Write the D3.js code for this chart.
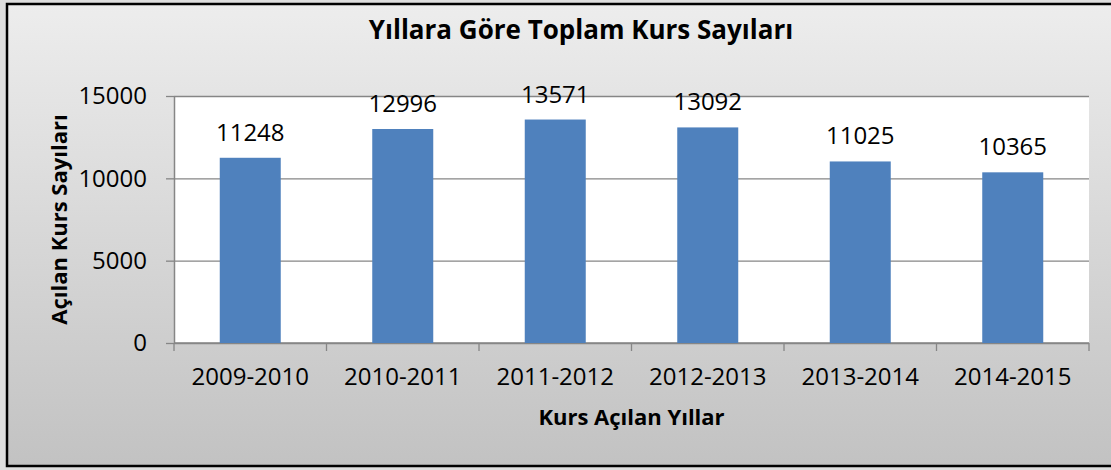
<!DOCTYPE html>
<html>
<head>
<meta charset="utf-8">
<script src="https://cdn.jsdelivr.net/npm/d3@7"></script>
<style>
  html, body { margin: 0; padding: 0; background: #dedede; }
  svg { display: block; }
</style>
</head>
<body>
<svg width="1111" height="470"></svg>
<script>
// chart data
const years = ["2009-2010", "2010-2011", "2011-2012", "2012-2013", "2013-2014", "2014-2015"];
const courseCounts = [11248, 12996, 13571, 13092, 11025, 10365];
const yTicks = [0, 5000, 10000, 15000];

const titleText = "Yıllara Göre Toplam Kurs Sayıları";
const xTitleText = "Kurs Açılan Yıllar";
const yTitleText = "Açılan Kurs Sayıları";

width = 1111;
height = 470;

const plot = {left: 174, top: 96, right: 1089, bottom: 343};
const font = "'Open Sans', 'DejaVu Sans', sans-serif";
const gridColor = "#868686";

const svg = d3.select("svg");

// background gradient
const defs = svg.append("defs");
const grad = defs.append("linearGradient")
    .attr("id", "bg")
    .attr("x1", 0).attr("y1", 0).attr("x2", 0).attr("y2", 1);
grad.append("stop").attr("offset", "0%").attr("stop-color", "#ededed");
grad.append("stop").attr("offset", "100%").attr("stop-color", "#c2c2c2");

// chart frame
svg.append("rect")
    .attr("x", 7).attr("y", 4)
    .attr("width", width + 10).attr("height", 462)
    .attr("fill", "url(#bg)")
    .attr("stroke", "#000")
    .attr("stroke-width", 2.5);

// scales
const x = d3.scaleBand()
    .domain(years)
    .range([plot.left, plot.right])
    .paddingInner(0.6)
    .paddingOuter(0.3);

const y = d3.scaleLinear()
    .domain([0, 15000])
    .range([plot.bottom, plot.top]);

// plot area
svg.append("rect")
    .attr("x", plot.left).attr("y", plot.top)
    .attr("width", plot.right - plot.left)
    .attr("height", plot.bottom - plot.top)
    .attr("fill", "#fff");

// gridlines + y axis
const yAxis = d3.axisLeft(y)
    .tickValues(yTicks)
    .tickSize(-(plot.right - plot.left))
    .tickSizeOuter(0)
    .tickPadding(27)
    .tickFormat(d3.format("d"));

const gy = svg.append("g")
    .attr("transform", `translate(${plot.left},0)`)
    .call(yAxis);
gy.select(".domain").attr("stroke", gridColor).attr("stroke-width", 1.5);
gy.selectAll(".tick line").attr("stroke", gridColor).attr("stroke-width", 1.3);
gy.selectAll(".tick").append("line")
    .attr("x1", -8).attr("x2", 0)
    .attr("stroke", gridColor).attr("stroke-width", 1.3);
gy.selectAll(".tick text")
    .attr("fill", "#000")
    .style("font", `24px ${font}`);

// x axis with ticks at category boundaries
const gx = svg.append("g")
    .attr("transform", `translate(0,${plot.bottom})`);
gx.append("line")
    .attr("x1", plot.left).attr("x2", plot.right)
    .attr("stroke", gridColor).attr("stroke-width", 1.5);
gx.selectAll("line.tk")
    .data(d3.range(years.length + 1))
    .join("line")
      .attr("class", "tk")
      .attr("x1", i => plot.left + i * x.step())
      .attr("x2", i => plot.left + i * x.step())
      .attr("y1", 0).attr("y2", 8)
      .attr("stroke", gridColor).attr("stroke-width", 1.3);
gx.selectAll("text")
    .data(years)
    .join("text")
      .attr("x", d => x(d) + x.bandwidth() / 2)
      .attr("y", 42)
      .attr("text-anchor", "middle")
      .style("font", `24px ${font}`)
      .text(d => d);

// bars
svg.append("g")
  .selectAll("rect")
  .data(courseCounts)
  .join("rect")
    .attr("x", (d, i) => x(years[i]))
    .attr("y", d => y(d))
    .attr("width", x.bandwidth())
    .attr("height", d => y(0) - y(d))
    .attr("fill", "#4f81bd");

// value labels
svg.append("g")
  .selectAll("text")
  .data(courseCounts)
  .join("text")
    .attr("x", (d, i) => x(years[i]) + x.bandwidth() / 2)
    .attr("y", d => y(d) - 17)
    .attr("text-anchor", "middle")
    .style("font", `24px ${font}`)
    .text(d => d);

// titles
svg.append("text")
    .attr("x", 581).attr("y", 39)
    .attr("text-anchor", "middle")
    .style("font", `bold 26px ${font}`)
    .text(titleText);

svg.append("text")
    .attr("x", (plot.left + plot.right) / 2).attr("y", 425)
    .attr("text-anchor", "middle")
    .style("font", `bold 22px ${font}`)
    .text(xTitleText);

svg.append("text")
    .attr("transform", `translate(67,${(plot.top + plot.bottom) / 2}) rotate(-90)`)
    .attr("text-anchor", "middle")
    .style("font", `bold 22px ${font}`)
    .text(yTitleText);
</script>
</body>
</html>
